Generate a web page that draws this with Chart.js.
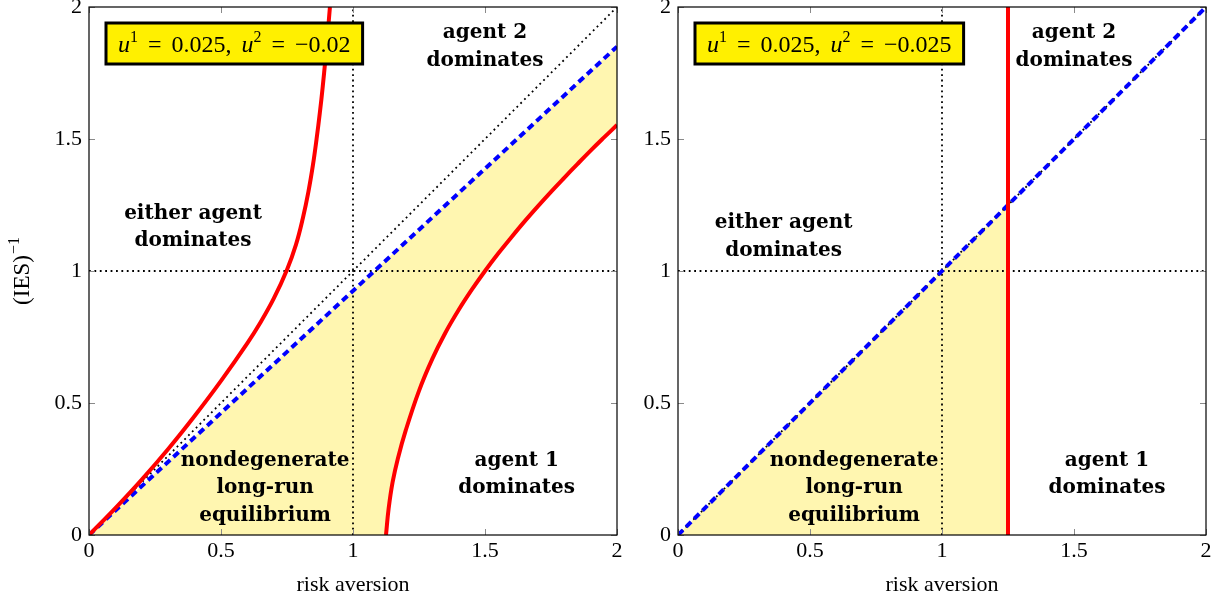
<!DOCTYPE html>
<html>
<head>
<meta charset="utf-8">
<script src="https://cdn.jsdelivr.net/npm/chart.js@4"></script>
<style>
html, body { margin: 0; padding: 0; background: #fff; }
#wrap { position: relative; width: 1224px; height: 603px; }
#left { position: absolute; left: 0; top: 0; }
#right { position: absolute; left: 640px; top: 0; }
</style>
</head>
<body>
<div id="wrap">
<canvas id="left" width="640" height="603"></canvas>
<canvas id="right" width="584" height="603"></canvas>
</div>
<script>
var xTicks = [0, 0.5, 1, 1.5, 2];
var tickLabels = ['0', '0.5', '1', '1.5', '2'];

// reference lines
var diagX = [0, 2], diagY = [0, 2];
var vRefX = [1, 1], vRefY = [0, 2];
var hRefX = [0, 2], hRefY = [1, 1];

// left panel, u1 = 0.025, u2 = -0.02
var blueLeftX = [0, 2], blueLeftY = [0, 1.85];
var redLeftAX = [0, 0.1, 0.2, 0.3, 0.4, 0.5, 0.6, 0.65, 0.7, 0.75, 0.784, 0.81, 0.831, 0.848, 0.862, 0.8745, 0.8855, 0.8953, 0.9043, 0.9126];
var redLeftAY = [0, 0.102, 0.21, 0.326, 0.451, 0.584, 0.727, 0.806, 0.896, 1.005, 1.1, 1.2, 1.3, 1.4, 1.5, 1.6, 1.7, 1.8, 1.9, 2.0];
var redLeftBX = [1.125, 1.135, 1.15, 1.17, 1.2, 1.25, 1.3, 1.35, 1.4, 1.45, 1.5, 1.55, 1.6, 1.65, 1.7, 1.75, 1.8, 1.85, 1.9, 1.95, 2.0];
var redLeftBY = [0, 0.1, 0.2, 0.29, 0.397, 0.546, 0.666, 0.766, 0.852, 0.929, 1.0, 1.066, 1.128, 1.188, 1.245, 1.3, 1.353, 1.405, 1.456, 1.505, 1.553];

// right panel, u1 = 0.025, u2 = -0.025
var blueRightX = [0, 2], blueRightY = [0, 2];
var redRightX = [1.25, 1.25], redRightY = [0, 2];

var paramText = [['0.025', '\u22120.02'], ['0.025', '\u22120.025']];
var regionText = [
  ['either agent', 'dominates'],
  ['agent 2', 'dominates'],
  ['nondegenerate', 'long-run', 'equilibrium'],
  ['agent 1', 'dominates']
];

var FILL = 'rgb(255,246,176)';
var SERIF = '"Liberation Serif", serif';
var DOTS = [1.8, 3.6];

function pts(xs, ys) {
  return xs.map(function (x, i) { return {x: x, y: ys[i]}; });
}

// repeat the two ends so the curve pieces keep their own shape inside a polygon
function piece(p) {
  return [p[0]].concat(p, [p[p.length - 1]]);
}

function line(xs, ys, color, width, dash, tension) {
  return {
    data: pts(xs, ys),
    borderColor: color,
    borderWidth: width,
    borderDash: dash || [],
    borderCapStyle: 'butt',
    pointRadius: 0,
    fill: false,
    tension: tension || 0
  };
}

function area(points, tension) {
  return {
    data: points,
    borderWidth: 0,
    borderColor: 'rgba(0,0,0,0)',
    backgroundColor: FILL,
    pointRadius: 0,
    tension: tension || 0,
    fill: 'shape'
  };
}

var framePlugin = {
  id: 'frame',
  afterDatasetsDraw: function (chart) {
    var ctx = chart.ctx, a = chart.chartArea;
    var xs = chart.scales.x, ys = chart.scales.y;
    ctx.save();
    ctx.strokeStyle = '#8a8a8a';
    ctx.lineWidth = 1;
    ctx.beginPath();
    xTicks.forEach(function (v) {
      var px = Math.round(xs.getPixelForValue(v)) + 0.5;
      ctx.moveTo(px, a.bottom); ctx.lineTo(px, a.bottom - 6);
      ctx.moveTo(px, a.top); ctx.lineTo(px, a.top + 6);
      var py = Math.round(ys.getPixelForValue(v)) + 0.5;
      ctx.moveTo(a.left, py); ctx.lineTo(a.left + 6, py);
      ctx.moveTo(a.right, py); ctx.lineTo(a.right - 6, py);
    });
    ctx.stroke();
    ctx.strokeStyle = '#000';
    ctx.lineWidth = 1.2;
    ctx.strokeRect(a.left, a.top, a.right - a.left, a.bottom - a.top);
    ctx.restore();
  }
};

function drawRuns(ctx, runs, x, y, measureOnly) {
  var x0 = x;
  runs.forEach(function (r) {
    if (r.gap) { x += r.gap; return; }
    ctx.font = r.font;
    if (!measureOnly) ctx.fillText(r.t, x, y + (r.dy || 0));
    x += ctx.measureText(r.t).width;
  });
  return x - x0;
}

var notesPlugin = {
  id: 'notes',
  afterDraw: function (chart, args, opts) {
    var ctx = chart.ctx, a = chart.chartArea;
    var xs = chart.scales.x, ys = chart.scales.y;
    ctx.save();
    ctx.fillStyle = '#000';
    ctx.textAlign = 'center';
    ctx.textBaseline = 'middle';
    ctx.font = 'bold 20px "DejaVu Serif", serif';
    opts.labels.forEach(function (l) {
      var cx = xs.getPixelForValue(l.x), cy = ys.getPixelForValue(l.y);
      l.lines.forEach(function (t, i) {
        ctx.fillText(t, cx, cy + (i - (l.lines.length - 1) / 2) * 27.5);
      });
    });

    // parameter box
    var it = 'italic 24px ' + SERIF, rm = '24px ' + SERIF, sup = '16px ' + SERIF;
    var runs = [
      {t: 'u', font: it}, {t: '1', font: sup, dy: -10}, {gap: 10},
      {t: '=', font: rm}, {gap: 10}, {t: opts.params[0] + ',', font: rm}, {gap: 10},
      {t: 'u', font: it}, {t: '2', font: sup, dy: -10}, {gap: 10},
      {t: '=', font: rm}, {gap: 10}, {t: opts.params[1], font: rm}
    ];
    ctx.textAlign = 'left';
    ctx.textBaseline = 'alphabetic';
    var w = drawRuns(ctx, runs, 0, 0, true);
    var bx = a.left + 17, by = a.top + 16, bw = w + 24, bh = 41;
    ctx.fillStyle = 'rgb(255,240,0)';
    ctx.fillRect(bx, by, bw, bh);
    ctx.strokeStyle = '#000';
    ctx.lineWidth = 3;
    ctx.strokeRect(bx, by, bw, bh);
    ctx.fillStyle = '#000';
    drawRuns(ctx, runs, bx + 12, by + bh / 2 + 8, false);

    if (opts.yTitle) {
      ctx.save();
      ctx.translate(29, (a.top + a.bottom) / 2);
      ctx.rotate(-Math.PI / 2);
      var tr = [{t: '(IES)', font: '23px ' + SERIF}, {gap: 1}, {t: '\u22121', font: '16px ' + SERIF, dy: -10}];
      var tw = drawRuns(ctx, tr, 0, 0, true);
      drawRuns(ctx, tr, -tw / 2, 0, false);
      ctx.restore();
    }
    ctx.restore();
  }
};

function scales(yWidth) {
  var tickFont = {family: SERIF, size: 22};
  return {
    x: {
      type: 'linear', min: 0, max: 2,
      grid: {display: false, drawTicks: false},
      border: {display: false},
      afterBuildTicks: function (s) { s.ticks = xTicks.map(function (v) { return {value: v}; }); },
      afterFit: function (s) { s.height = 68; s.paddingLeft = 0; s.paddingRight = 0; },
      ticks: {
        color: '#000', font: tickFont, padding: 3, maxRotation: 0,
        callback: function (v, i) { return tickLabels[i]; }
      },
      title: {display: true, text: 'risk aversion', color: '#000', font: {family: SERIF, size: 22}, padding: {top: 0, bottom: 5}}
    },
    y: {
      type: 'linear', min: 0, max: 2,
      grid: {display: false, drawTicks: false},
      border: {display: false},
      afterBuildTicks: function (s) { s.ticks = xTicks.map(function (v) { return {value: v}; }); },
      afterFit: function (s) { s.width = yWidth; s.paddingTop = 0; s.paddingBottom = 0; },
      ticks: {
        color: '#000', font: tickFont, padding: 7,
        callback: function (v, i) { return tickLabels[i]; }
      }
    }
  };
}

function options(yWidth, padRight, notes) {
  return {
    responsive: false,
    animation: false,
    devicePixelRatio: 1,
    layout: {padding: {left: 0, right: padRight, top: 7, bottom: 0}},
    scales: scales(yWidth),
    plugins: {legend: {display: false}, tooltip: {enabled: false}, notes: notes}
  };
}

// yellow region of the left panel: under the blue line, left of the right red curve
var leftArea = piece(pts(blueLeftX, blueLeftY)).concat(piece(pts(redLeftBX, redLeftBY).reverse()));
// right panel: under the blue line up to the red vertical
var cut = redRightX[0];
var rightArea = [
  {x: blueRightX[0], y: blueRightY[0]},
  {x: cut, y: blueRightY[1] * cut / blueRightX[1]},
  {x: redRightX[0], y: redRightY[0]}
];

new Chart(document.getElementById('left'), {
  type: 'line',
  data: {
    datasets: [
      line(redLeftAX, redLeftAY, '#ff0000', 4, null, 0.4),
      line(redLeftBX, redLeftBY, '#ff0000', 4, null, 0.4),
      line(blueLeftX, blueLeftY, '#0000ff', 4, [7, 4.5]),
      line(diagX, diagY, '#000', 1.8, DOTS),
      line(vRefX, vRefY, '#000', 1.8, DOTS),
      line(hRefX, hRefY, '#000', 1.8, DOTS),
      area(leftArea, 0.4)
    ]
  },
  options: options(89, 23, {
    params: paramText[0],
    yTitle: true,
    labels: [
      {x: 0.394, y: 1.165, lines: regionText[0]},
      {x: 1.5, y: 1.85, lines: regionText[1]},
      {x: 0.667, y: 0.178, lines: regionText[2]},
      {x: 1.62, y: 0.23, lines: regionText[3]}
    ]
  }),
  plugins: [framePlugin, notesPlugin]
});

new Chart(document.getElementById('right'), {
  type: 'line',
  data: {
    datasets: [
      line(redRightX, redRightY, '#ff0000', 4),
      line(blueRightX, blueRightY, '#0000ff', 4, [7, 4.5]),
      line(diagX, diagY, '#000', 1.8, DOTS),
      line(vRefX, vRefY, '#000', 1.8, DOTS),
      line(hRefX, hRefY, '#000', 1.8, DOTS),
      area(rightArea)
    ]
  },
  options: options(38, 18, {
    params: paramText[1],
    yTitle: false,
    labels: [
      {x: 0.40, y: 1.13, lines: regionText[0]},
      {x: 1.5, y: 1.85, lines: regionText[1]},
      {x: 0.667, y: 0.178, lines: regionText[2]},
      {x: 1.625, y: 0.23, lines: regionText[3]}
    ]
  }),
  plugins: [framePlugin, notesPlugin]
});
</script>
</body>
</html>
